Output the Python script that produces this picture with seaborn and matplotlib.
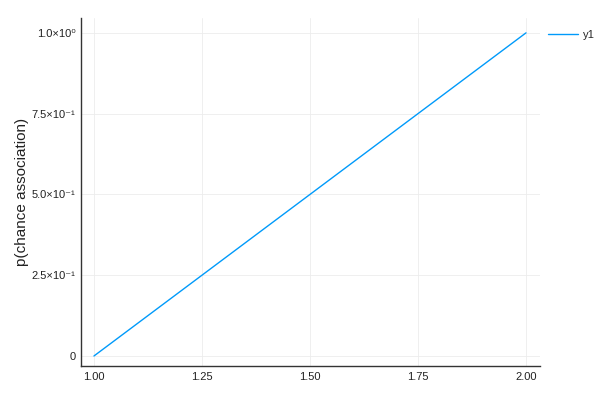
import numpy as np
import pandas as pd
import matplotlib
matplotlib.use("Agg")
import matplotlib.pyplot as plt
import seaborn as sns

# data
x_vals = [1.0, 2.0]
y_vals = [0.0, 1.0]
series = ["y1", "y1"]
xticks = [1.0, 1.25, 1.5, 1.75, 2.0]
xtick_labels = ["1.00", "1.25", "1.50", "1.75", "2.00"]
yticks = [0.0, 0.25, 0.5, 0.75, 1.0]
ytick_labels = ["0", "2.5×10⁻¹", "5.0×10⁻¹", "7.5×10⁻¹", "1.0×10⁰"]

sns.set_style("white")
plt.rcParams['font.family'] = ['Liberation Sans', 'DejaVu Sans']

df = pd.DataFrame({"x": x_vals, "y": y_vals, "s": series})

fig = plt.figure(figsize=(6, 4), dpi=100)
ax = fig.add_axes([0.135, 0.085, 0.765, 0.87])
sns.lineplot(data=df, x="x", y="y", hue="s", palette=["#009AFA"], lw=1, ax=ax, legend=False)

ax.set_xlim(0.97, 2.0324)
ax.set_ylim(-0.031, 1.046)
ax.set_xticks(xticks)
ax.set_xticklabels(xtick_labels)
ax.set_yticks(yticks)
ax.set_yticklabels(ytick_labels)
ax.tick_params(direction="in", length=3, width=0.6, color="#333333", labelsize=8, labelcolor="#222222", pad=4)
ax.grid(True, color="#ececec", lw=0.6)
for s in ["top", "right"]:
    ax.spines[s].set_visible(False)
for s in ["left", "bottom"]:
    ax.spines[s].set_color("#333333")
    ax.spines[s].set_linewidth(1.0)
ax.set_xlabel("")
ax.set_ylabel("p(chance association)", fontsize=11, color="#222222", labelpad=2)

# legend outside at top right
fig.legend(handles=[plt.Line2D([], [], color="#009AFA", lw=1)], labels=["y1"],
           loc="upper left", bbox_to_anchor=(0.913, 0.925), frameon=False,
           fontsize=8, handlelength=2.7, handletextpad=0.45,
           borderpad=0, borderaxespad=0)

fig.savefig("out.png", dpi=100)
